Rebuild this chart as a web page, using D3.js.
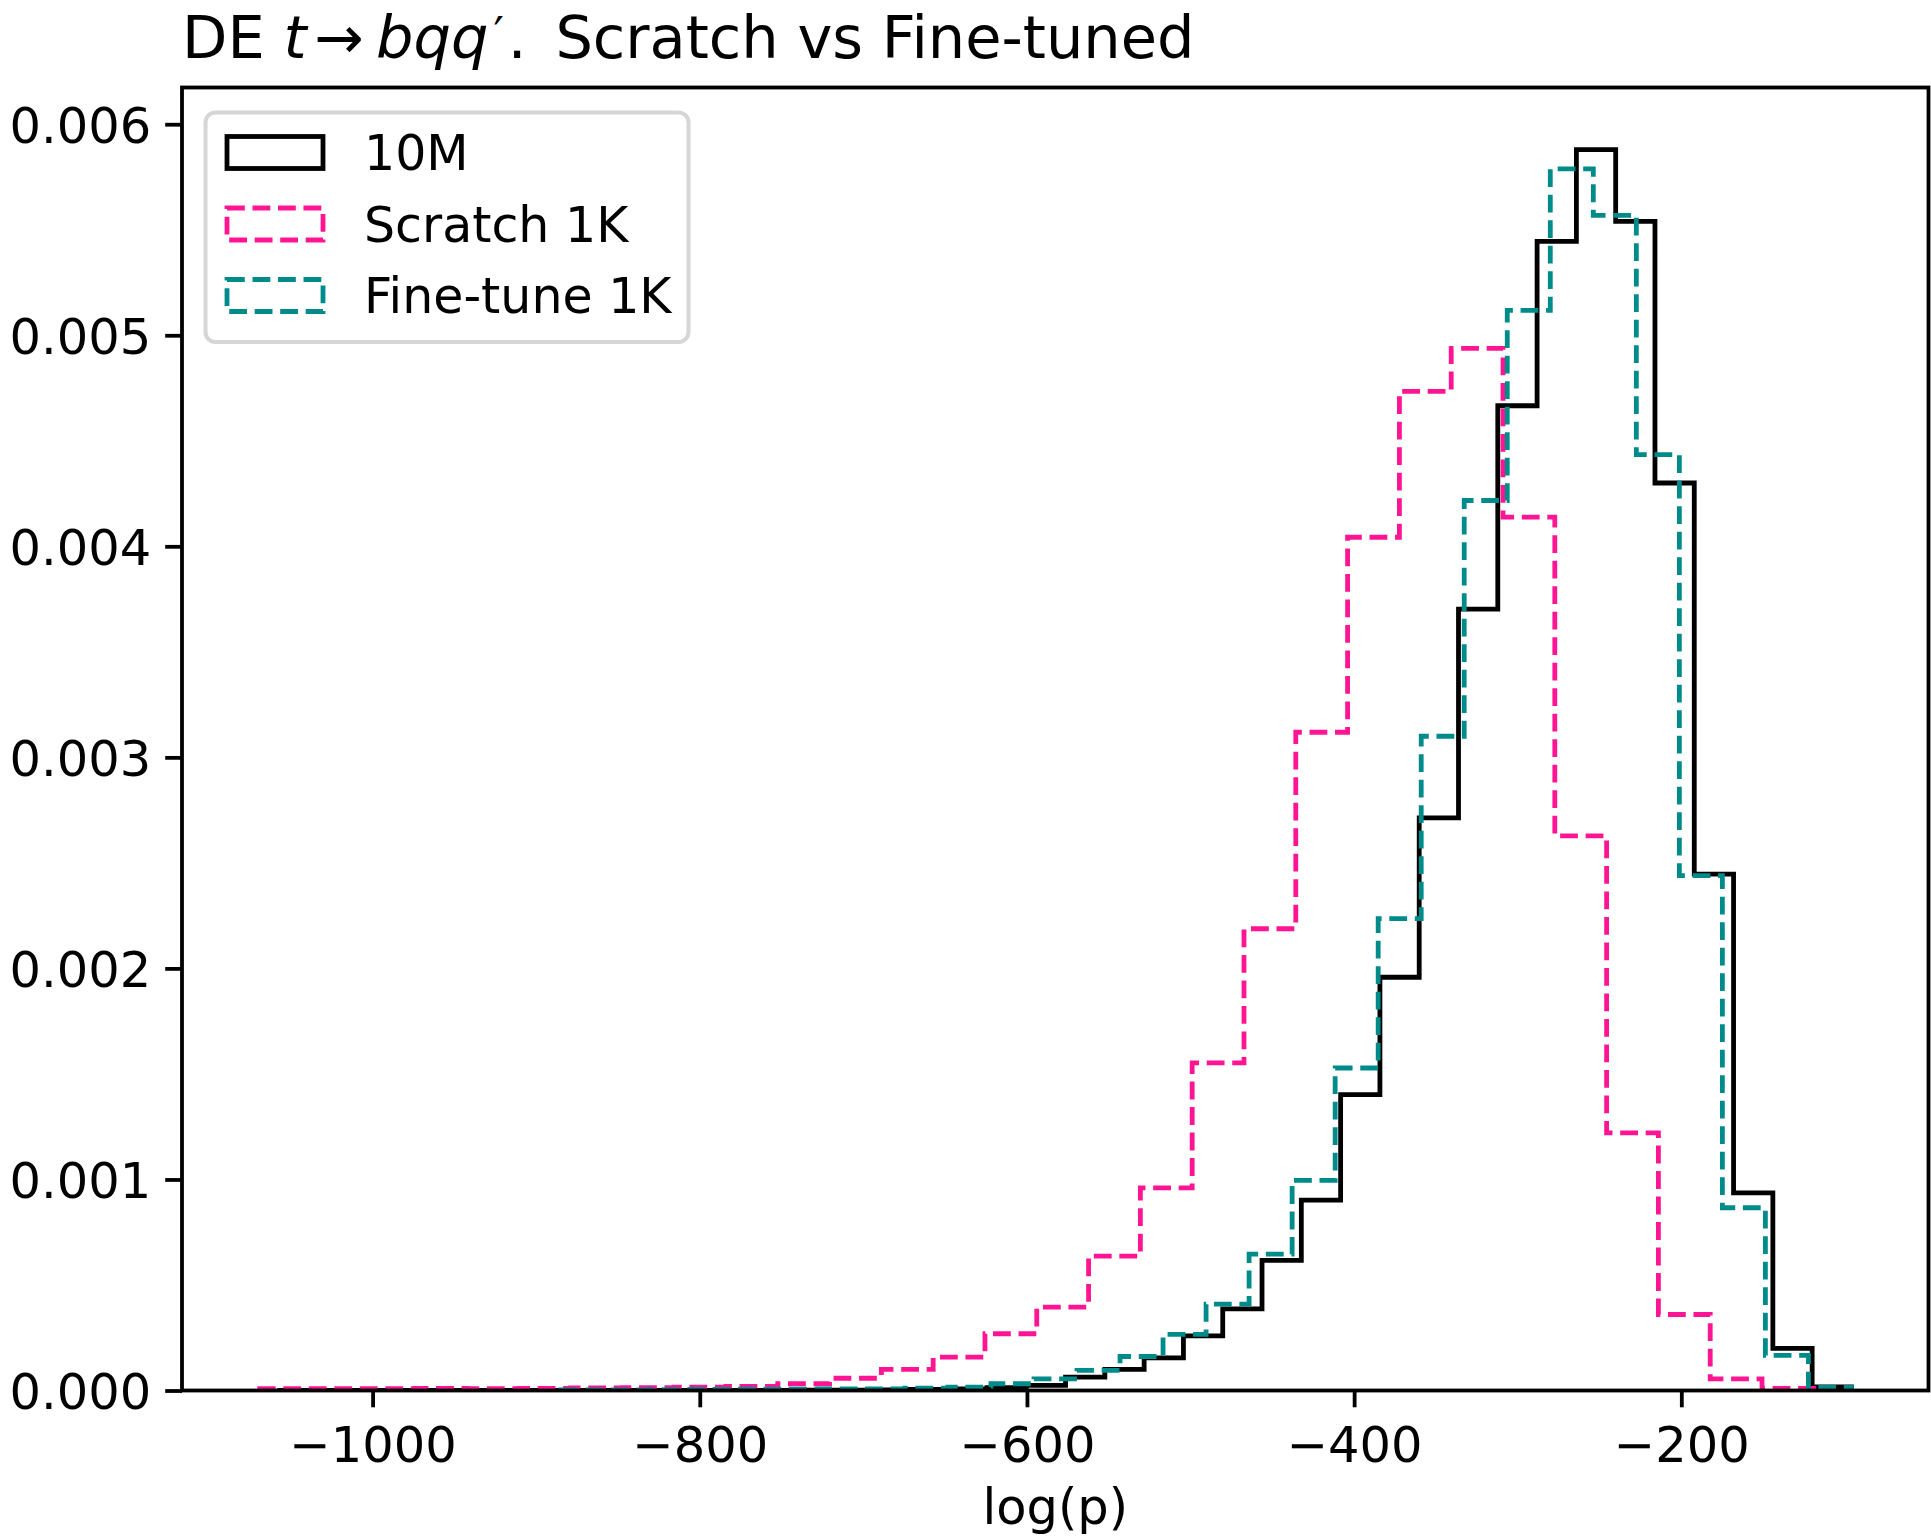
<!DOCTYPE html>
<html>
<head>
<meta charset="utf-8">
<script src="https://cdn.jsdelivr.net/npm/d3@7"></script>
<style>
  body { margin: 0; background: #ffffff; }
  svg { display: block; }
  text { font-family: "DejaVu Sans", "Liberation Sans", sans-serif; fill: #000; }
</style>
</head>
<body>
<svg id="chart" width="1931" height="1540"></svg>
<script>
// ---- data -------------------------------------------------------------
const seriesNames  = ["10M", "Scratch 1K", "Fine-tune 1K"];
const seriesColors = ["#000000", "#ff1493", "#008b8b"];
const seriesDashed = [false, true, true];

// each histogram: [first edge, last edge] with equal-width bins, densities left to right
const binRange10M = [-1056.8, -96.0];
const density10M = [
  0.00000001, 0.00000001, 0.00000001, 0.00000001, 0.00000002, 0.00000003, 0.00000005, 0.0000001,
  0.0000001, 0.0000002, 0.0000003, 0.0000005, 0.0000008, 0.0000013, 0.000002, 0.000003,
  0.000005, 0.000008, 0.000013, 0.000024, 0.000063, 0.0001, 0.000155, 0.000259,
  0.000387, 0.000617, 0.000902, 0.001402, 0.001958, 0.002713, 0.003702, 0.004666,
  0.005445, 0.00588, 0.00554, 0.0043, 0.002447, 0.000936, 0.0002, 0.000017
];

const binRangeScratch = [-1069.0, -119.0];
const densityScratch = [
  0.000009, 0.000009, 0.000009, 0.00001, 0.000009, 0.00001, 0.000012, 0.000013,
  0.000016, 0.00002, 0.000032, 0.000058, 0.0001, 0.000158, 0.000269, 0.000395,
  0.000637, 0.00096, 0.001552, 0.002188, 0.003119, 0.004043, 0.004734, 0.004938,
  0.004138, 0.002628, 0.001221, 0.00036, 0.000055, 0.00001
];

const binRangeFine = [-885.0, -96.0];
const densityFine = [
  0.000003, 0.000003, 0.000004, 0.000005, 0.000006, 0.000006, 0.000007, 0.000008,
  0.000011, 0.000016, 0.000032, 0.000055, 0.000095, 0.000161, 0.000266, 0.000409,
  0.000646, 0.000996, 0.001528, 0.002236, 0.0031, 0.004217, 0.005118, 0.005788,
  0.005568, 0.004434, 0.00244, 0.000866, 0.000166, 0.000015
];

const xTicks = [-1000, -800, -600, -400, -200];
const yTicks = [0, 0.001, 0.002, 0.003, 0.004, 0.005, 0.006];
const xDomain = [-1116.5, -48.9];

// ---- layout ------------------------------------------------------------
const plot = { left: 182, right: 1928.5, top: 87.5, bottom: 1390.5 };
const FS = 49.5;        // tick / label font size
const LEG_FS = 49;      // legend font size
const LW = 4.8;         // histogram line width
const DASH = "17.8 7.7";

const svg = d3.select("#chart");
svg.append("rect").attr("width", 1931).attr("height", 1540).attr("fill", "#fff");

const series = [
  { range: binRange10M, dens: density10M },
  { range: binRangeScratch, dens: densityScratch },
  { range: binRangeFine, dens: densityFine }
];

const yMax = 1.05 * d3.max(series, s => d3.max(s.dens));
const x = d3.scaleLinear().domain(xDomain).range([plot.left, plot.right]);
const y = d3.scaleLinear().domain([0, yMax]).range([plot.bottom, plot.top]);

svg.append("clipPath").attr("id", "plotclip")
  .append("rect")
  .attr("x", plot.left).attr("y", plot.top)
  .attr("width", plot.right - plot.left).attr("height", plot.bottom - plot.top);

// step outline of a histogram: up from the baseline, across each bin, back down
function stepPoints(s) {
  const n = s.dens.length;
  const edges = d3.range(n + 1).map(i => s.range[0] + (s.range[1] - s.range[0]) * i / n);
  const pts = [[edges[0], 0]];
  s.dens.forEach((h, i) => { pts.push([edges[i], h]); pts.push([edges[i + 1], h]); });
  pts.push([edges[n], 0]);
  return pts;
}
const line = d3.line().x(d => x(d[0])).y(d => y(d[1]));

const g = svg.append("g").attr("clip-path", "url(#plotclip)");
series.forEach((s, i) => {
  g.append("path")
    .attr("d", line(stepPoints(s)))
    .attr("fill", "none")
    .attr("stroke", seriesColors[i])
    .attr("stroke-width", LW)
    .attr("stroke-linejoin", "miter")
    .attr("stroke-dasharray", seriesDashed[i] ? DASH : null);
});

// ---- axes --------------------------------------------------------------
const fmtMinus = v => String(v).replace("-", "\u2212");
const xAxis = d3.axisBottom(x).tickValues(xTicks).tickSize(16.8).tickPadding(17)
  .tickFormat(fmtMinus);
const yAxis = d3.axisLeft(y).tickValues(yTicks).tickSize(16.8).tickPadding(14)
  .tickFormat(d3.format(".3f"));

const gx = svg.append("g").attr("transform", `translate(0,${plot.bottom})`).call(xAxis);
const gy = svg.append("g").attr("transform", `translate(${plot.left},0)`).call(yAxis);
[gx, gy].forEach(a => {
  a.select(".domain").remove();
  a.selectAll(".tick line").attr("stroke", "#000").attr("stroke-width", 3.8);
  a.selectAll(".tick text").attr("font-size", FS).attr("font-family", "DejaVu Sans").attr("fill", "#000");
});
gx.selectAll(".tick text").attr("dy", "0.76em");
gy.selectAll(".tick text").attr("dy", "0.36em");

// frame
svg.append("rect")
  .attr("x", plot.left).attr("y", plot.top)
  .attr("width", plot.right - plot.left).attr("height", plot.bottom - plot.top)
  .attr("fill", "none").attr("stroke", "#000").attr("stroke-width", 3.8);

// axis label
svg.append("text")
  .attr("x", (plot.left + plot.right) / 2).attr("y", 1524)
  .attr("text-anchor", "middle").attr("font-size", FS)
  .text("log(p)");

// title with inline math
const title = svg.append("text")
  .attr("x", plot.left).attr("y", 58)
  .attr("font-size", 59);
title.append("tspan").text("DE ");
title.append("tspan").attr("font-style", "italic").text("t");
title.append("tspan").attr("dx", 8).text("\u2192");
title.append("tspan").attr("dx", 12).attr("font-style", "italic").text("bqq");
title.append("tspan").attr("dx", 5).attr("font-size", 46).attr("dy", -8).text("\u2032");
title.append("tspan").attr("dx", 4).attr("dy", 8).text(".");
title.append("tspan").attr("dx", 10).text(" Scratch vs Fine-tuned");

// ---- legend ------------------------------------------------------------
const leg = svg.append("g");
leg.append("rect")
  .attr("x", 205.5).attr("y", 112.5).attr("width", 483).attr("height", 229.5)
  .attr("rx", 10).attr("ry", 10)
  .attr("fill", "#fff").attr("stroke", "#d6d6d6").attr("stroke-width", 4);

const rowY = [152.5, 224, 295.5];
seriesNames.forEach((name, i) => {
  leg.append("rect")
    .attr("x", 227).attr("y", rowY[i] - 16).attr("width", 96).attr("height", 32)
    .attr("fill", "none").attr("stroke", seriesColors[i]).attr("stroke-width", LW)
    .attr("stroke-dasharray", seriesDashed[i] ? DASH : null);
  leg.append("text")
    .attr("x", 364).attr("y", rowY[i] + 17.5)
    .attr("font-size", LEG_FS).text(name);
});
</script>
</body>
</html>
